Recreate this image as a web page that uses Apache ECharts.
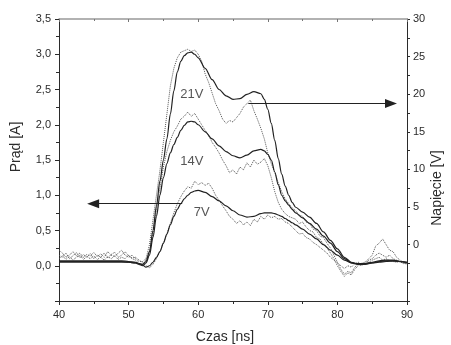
<!DOCTYPE html>
<html>
<head>
<meta charset="utf-8">
<script src="https://cdn.jsdelivr.net/npm/echarts@6.0.0/dist/echarts.min.js"></script>
<style>
  html, body { margin: 0; padding: 0; background: #fff; }
  #chart { width: 451px; height: 345px; }
</style>
</head>
<body>
<div id="chart"></div>
<script>
// time grid for the smooth (solid) traces, ns
const tSolid = [40,41,42,43,44,45,46,47,48,49,50,51,
  51.5,52,52.5,53,53.5,54,54.5,55,55.5,56,56.5,57,57.5,58,58.5,59,59.5,60,
  61,62,63,64,65,66,67,68,69,
  69.5,70,70.5,71,71.5,72,72.5,73,73.5,74,
  75,76,77,78,79,80,81,82,83,84,85,86,87,88,89,90]

// time grid for the noisy (dotted) traces, ns
const tDot = [40,40.5,41,41.5,42,42.5,43,43.5,44,44.5,45,45.5,46,46.5,47,47.5,48,48.5,49,49.5,50,50.5,51,51.5,52,
  52.5,53,53.5,54,54.5,55,55.5,56,56.5,57,57.5,58,58.5,59,59.5,60,
  60.5,61,61.5,62,62.5,63,63.5,64,64.5,65,65.5,66,66.5,67,67.5,68,68.5,69,69.5,70,70.5,71,71.5,72,72.5,73,73.5,74,
  74.5,75,75.5,76,76.5,77,77.5,78,78.5,79,79.5,80,80.5,81,81.5,82,82.5,83,83.5,84,84.5,85,85.5,86,86.5,87,87.5,88,88.5,89,89.5,90]

// solid traces, A
const solid21 = [0.06,0.06,0.06,0.06,0.06,0.06,0.06,0.06,0.06,0.06,0.05,0.04,
  0.03,0.02,0.06,0.2,0.5,0.85,1.2,1.5,1.8,2.15,2.48,2.75,2.9,2.98,3.02,3.03,3.0,2.95,
  2.8,2.64,2.5,2.41,2.36,2.37,2.43,2.47,2.44,
  2.36,2.22,2.02,1.78,1.52,1.3,1.13,1.0,0.9,0.83,
  0.76,0.69,0.6,0.48,0.36,0.24,0.12,0.05,0.02,0.02,0.04,0.06,0.07,0.07,0.06,0.04]
const solid14 = [0.05,0.05,0.05,0.05,0.05,0.05,0.05,0.05,0.05,0.05,0.05,0.04,
  0.02,0.0,0.04,0.15,0.4,0.7,1.0,1.25,1.45,1.6,1.72,1.82,1.92,1.99,2.04,2.05,2.04,2.0,
  1.9,1.8,1.7,1.62,1.56,1.53,1.57,1.63,1.65,
  1.63,1.58,1.5,1.33,1.15,1.0,0.92,0.86,0.8,0.75,
  0.68,0.6,0.52,0.42,0.32,0.2,0.1,0.04,0.02,0.03,0.05,0.07,0.08,0.08,0.06,0.05]
const solid7 = [0.07,0.07,0.07,0.07,0.07,0.07,0.07,0.07,0.07,0.07,0.06,0.05,
  0.03,0.01,-0.02,0.0,0.05,0.12,0.2,0.32,0.45,0.58,0.7,0.8,0.88,0.95,1.0,1.04,1.06,1.07,
  1.04,0.98,0.92,0.85,0.78,0.72,0.69,0.7,0.74,
  0.75,0.75,0.75,0.74,0.72,0.7,0.67,0.64,0.61,0.58,
  0.52,0.45,0.38,0.3,0.22,0.15,0.08,0.04,0.03,0.03,0.04,0.05,0.06,0.07,0.06,0.05]

// dotted traces, A
const dot21 = [0.22,0.18,0.12,0.15,0.2,0.14,0.18,0.12,0.16,0.14,0.19,0.13,0.17,0.12,0.2,0.15,0.13,0.18,0.22,0.15,0.12,0.15,0.1,0.06,0.06,
  0.1,0.3,0.65,1.0,1.35,1.75,2.15,2.55,2.8,2.95,3.03,3.05,3.07,3.04,3.06,3.0,
  2.9,2.72,2.6,2.45,2.3,2.2,2.08,2.02,2.06,2.04,2.1,2.16,2.25,2.3,2.35,2.2,2.08,1.95,1.8,1.6,1.45,1.32,1.18,1.05,0.95,0.88,0.82,0.78,
  0.72,0.7,0.62,0.6,0.52,0.5,0.42,0.4,0.32,0.25,0.15,0.05,-0.05,-0.12,-0.08,-0.1,-0.02,0.02,0.0,0.05,0.1,0.15,0.28,0.32,0.38,0.3,0.22,0.2,0.12,0.08,0.05,0.03]
const dot14 = [0.15,0.12,0.18,0.1,0.14,0.19,0.11,0.16,0.12,0.17,0.1,0.15,0.12,0.18,0.11,0.16,0.19,0.12,0.15,0.2,0.14,0.1,0.08,0.03,0.02,
  0.08,0.2,0.45,0.8,1.1,1.4,1.62,1.78,1.9,1.98,2.08,2.12,2.18,2.12,2.16,2.08,
  2.0,1.92,1.85,1.75,1.68,1.6,1.5,1.42,1.32,1.36,1.3,1.4,1.36,1.46,1.4,1.5,1.44,1.47,1.52,1.42,1.25,1.05,0.9,0.8,0.74,0.7,0.68,0.66,
  0.6,0.62,0.55,0.5,0.48,0.4,0.38,0.3,0.25,0.18,0.1,0.0,-0.08,-0.15,-0.1,-0.13,-0.05,0.0,0.04,0.02,0.08,0.1,0.15,0.18,0.15,0.12,0.15,0.1,0.08,0.05,0.04,0.02]
const dot7 = [0.1,0.14,0.09,0.13,0.08,0.12,0.15,0.09,0.13,0.1,0.14,0.09,0.12,0.08,0.13,0.1,0.14,0.09,0.12,0.1,0.15,0.11,0.12,0.08,0.05,
  0.0,-0.03,0.02,0.1,0.2,0.32,0.45,0.6,0.75,0.88,0.98,1.06,1.12,1.1,1.2,1.15,
  1.18,1.14,1.17,1.1,1.0,0.93,0.85,0.78,0.7,0.66,0.6,0.64,0.58,0.62,0.57,0.66,0.62,0.7,0.66,0.72,0.68,0.7,0.66,0.67,0.62,0.6,0.55,0.5,
  0.45,0.46,0.4,0.38,0.33,0.3,0.26,0.22,0.18,0.12,0.08,0.04,0.0,-0.04,0.0,-0.02,0.03,0.05,0.02,0.06,0.05,0.08,0.1,0.12,0.08,0.1,0.07,0.06,0.05,0.06,0.03,0.04]

// curve labels
const curveNames = ['21V', '14V', '7V']
const curveLabelX = [59.1, 59.1, 60.5]
const curveLabelY = [2.43, 1.48, 0.75]

const FONT = '"Liberation Sans", Arial, sans-serif'
const INK = '#2b2b2b'

const pair = (t, v) => t.map((x, i) => [x, v[i]])
const comma = v => v.toFixed(1).replace('.', ',')

const solidSeries = (data) => ({
  type: 'line', xAxisIndex: 0, yAxisIndex: 0,
  data, symbol: 'none', smooth: 0.3, smoothMonotone: 'x',
  lineStyle: { color: '#222', width: 1.2 }
})
const dotSeries = (data) => ({
  type: 'line', xAxisIndex: 0, yAxisIndex: 0,
  data, symbol: 'none',
  lineStyle: { color: '#555', width: 1, type: 'dotted' }
})

const chart = echarts.init(document.getElementById('chart'))
chart.setOption({
  animation: false,
  grid: { left: 59, right: 44, top: 19, bottom: 44 },
  xAxis: [{
    type: 'value', min: 40, max: 90, interval: 10,
    axisLine: { onZero: false, lineStyle: { color: INK, width: 1 } },
    axisTick: { length: 4, lineStyle: { color: INK } },
    minorTick: { show: true, splitNumber: 2, length: 3, lineStyle: { color: INK } },
    axisLabel: { color: INK, fontSize: 11, fontFamily: FONT, margin: 8 },
    splitLine: { show: false }
  }, {
    type: 'value', position: 'top', min: 40, max: 90, interval: 10,
    axisLine: { onZero: false, lineStyle: { color: '#999', width: 1.5 } },
    axisTick: { inside: true, length: 3, lineStyle: { color: '#777' } },
    minorTick: { show: true, splitNumber: 2, length: 2, lineStyle: { color: '#777' } },
    axisLabel: { show: false },
    splitLine: { show: false }
  }],
  yAxis: [{
    type: 'value', min: -0.5, max: 3.5, interval: 0.5,
    axisLine: { show: true, onZero: false, lineStyle: { color: INK, width: 1 } },
    axisTick: { show: true, length: 4, lineStyle: { color: INK } },
    minorTick: { show: true, splitNumber: 2, length: 3, lineStyle: { color: INK } },
    axisLabel: { color: INK, fontSize: 11, fontFamily: FONT, margin: 8,
      formatter: v => v < 0 ? '' : comma(v) },
    splitLine: { show: false }
  }, {
    type: 'value', position: 'right', min: -7.5, max: 30, interval: 2.5,
    axisLine: { show: true, onZero: false, lineStyle: { color: INK, width: 1 } },
    axisTick: { show: true, length: 3, lineStyle: { color: INK } },
    axisLabel: { color: INK, fontSize: 11, fontFamily: FONT, margin: 6,
      formatter: v => (v >= 0 && v % 5 === 0) ? String(v) : '' },
    splitLine: { show: false }
  }],
  graphic: [
    { type: 'text', x: 225, y: 337,
      style: { text: 'Czas [ns]', font: '14px ' + FONT, fill: INK, textAlign: 'center', textVerticalAlign: 'middle' } },
    { type: 'text', x: 16, y: 147, rotation: Math.PI / 2,
      style: { text: 'Prąd [A]', font: '14px ' + FONT, fill: INK, textAlign: 'center', textVerticalAlign: 'middle' } },
    { type: 'text', x: 437, y: 188, rotation: Math.PI / 2,
      style: { text: 'Napięcie [V]', font: '14px ' + FONT, fill: INK, textAlign: 'center', textVerticalAlign: 'middle' } }
  ],
  series: [
    dotSeries(pair(tDot, dot7)),
    dotSeries(pair(tDot, dot14)),
    dotSeries(pair(tDot, dot21)),
    solidSeries(pair(tSolid, solid7)),
    solidSeries(pair(tSolid, solid14)),
    Object.assign(solidSeries(pair(tSolid, solid21)), {
      markLine: {
        silent: true,
        symbol: ['none', 'triangle'],
        symbolSize: [9, 12],
        label: { show: false },
        lineStyle: { color: '#222', width: 1, type: 'solid' },
        data: [
          [{ coord: [57.7, 0.88] }, { coord: [44.9, 0.88] }],
          [{ coord: [67.2, 2.3] }, { coord: [87.7, 2.3] }]
        ]
      }
    }),
    {
      type: 'scatter', xAxisIndex: 0, yAxisIndex: 0,
      symbolSize: 1, itemStyle: { color: 'transparent' },
      data: curveNames.map((n, i) => ({ name: n, value: [curveLabelX[i], curveLabelY[i]] })),
      label: { show: true, position: 'inside', formatter: '{b}', color: INK, fontSize: 13, fontFamily: FONT }
    }
  ]
})
</script>
</body>
</html>
